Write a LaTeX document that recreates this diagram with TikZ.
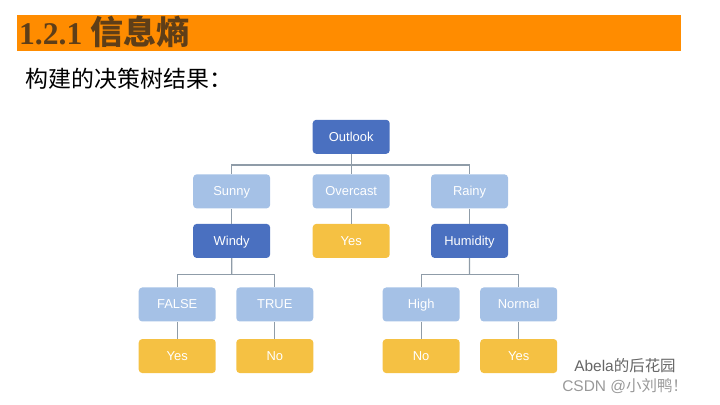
\documentclass[tikz,border=0pt]{standalone}
\usepackage{fontspec}
\setmainfont{Liberation Sans}
\newfontfamily\cjk{Noto Sans CJK SC}
\newfontfamily\cjkbold{Noto Sans CJK SC Bold}
\newfontfamily\titleserif{Liberation Serif}
\usetikzlibrary{positioning,calc}
\definecolor{barorange}{HTML}{FF8C00}
\definecolor{titlebrown}{HTML}{5E3E18}
\definecolor{darkblue}{HTML}{4A70C0}
\definecolor{lightblue}{HTML}{A5C1E6}
\definecolor{leafyellow}{HTML}{F5C143}
\definecolor{linkgray}{HTML}{8F9CA8}

\begin{document}
\begin{tikzpicture}[
  box/.style = {
    rectangle,
    rounded corners = 2.5pt,
    minimum width = 1.925cm,
    minimum height = 0.85cm,
    text height = 1.6ex,
    text depth = 0.4ex,
    text = white,
    font = \fontsize{9.2}{11}\selectfont,
  },
  root/.style = {
    box,
    fill = darkblue,
  },
  branch/.style = {
    box,
    fill = lightblue,
  },
  leaf/.style = {
    box,
    fill = leafyellow,
  },
  link/.style = {
    draw = linkgray,
    line width = 0.9pt,
  },
]

  \useasboundingbox (0,0) rectangle (18,-10.125);

  % heading
  \fill[barorange] (0.425,-0.375) rectangle (17.025,-1.275);
  \node[anchor=west,text=titlebrown,inner sep=0pt] (title) at (0.47,-0.8)
    {\fontsize{22.5}{26}\selectfont\titleserif\bfseries 1.2.1 {\fontsize{23.5}{26}\selectfont\cjkbold 信息熵}};
  \node[anchor=west,inner sep=0pt] (subtitle) at (0.64,-1.98)
    {\fontsize{16.3}{19}\selectfont\cjk 构建的决策树结果：};

  % tree
  \node[root] (outlook) at (8.78,-3.42) {Outlook};
  \node[branch] (overcast) [below=0.5cm of outlook] {Overcast};
  \node[branch] (sunny) [left=1.05cm of overcast] {Sunny};
  \node[branch] (rainy) [right=1.02cm of overcast] {Rainy};

  \node[root] (windy) [below=0.375cm of sunny] {Windy};
  \node[leaf] (yes0) [below=0.375cm of overcast] {Yes};
  \node[root] (humidity) [below=0.375cm of rainy] {Humidity};

  \node[branch] (false) [below=0.725cm of windy,xshift=-1.36cm] {FALSE};
  \node[branch] (true) [right=0.5cm of false] {TRUE};
  \node[branch] (high) [below=0.725cm of humidity,xshift=-1.21cm] {High};
  \node[branch] (normal) [right=0.5cm of high] {Normal};

  \node[leaf] (yes1) [below=0.425cm of false] {Yes};
  \node[leaf] (no1) [below=0.425cm of true] {No};
  \node[leaf] (no2) [below=0.425cm of high] {No};
  \node[leaf] (yes2) [below=0.425cm of normal] {Yes};

  \coordinate (j0) at ($(outlook.south)!0.55!(overcast.north)$);
  \coordinate (j1) at ($(windy.south)!0.55!(windy.south |- false.north)$);
  \coordinate (j2) at ($(humidity.south)!0.55!(humidity.south |- high.north)$);

  \draw[link] (outlook.south) -- (overcast.north);
  \draw[link] (sunny.north) |- (j0) -| (rainy.north);
  \draw[link] (overcast.south) -- (yes0.north);
  \draw[link] (sunny.south) -- (windy.north);
  \draw[link] (rainy.south) -- (humidity.north);

  \draw[link] (windy.south) -- (j1);
  \draw[link] (false.north) |- (j1) -| (true.north);
  \draw[link] (humidity.south) -- (j2);
  \draw[link] (high.north) |- (j2) -| (normal.north);

  \draw[link] (false.south) -- (yes1.north);
  \draw[link] (true.south) -- (no1.north);
  \draw[link] (high.south) -- (no2.north);
  \draw[link] (normal.south) -- (yes2.north);

  % watermark
  \node[anchor=west,inner sep=0pt,text=black!60] (mark1) at (14.35,-9.15)
    {\fontsize{11}{13}\selectfont Abela{\cjk 的后花园}};
  \node[anchor=west,inner sep=0pt,text=black!40] (mark2) at (14.05,-9.65)
    {\fontsize{11}{13}\selectfont CSDN @{\cjk 小刘鸭！}};

\end{tikzpicture}
\end{document}
